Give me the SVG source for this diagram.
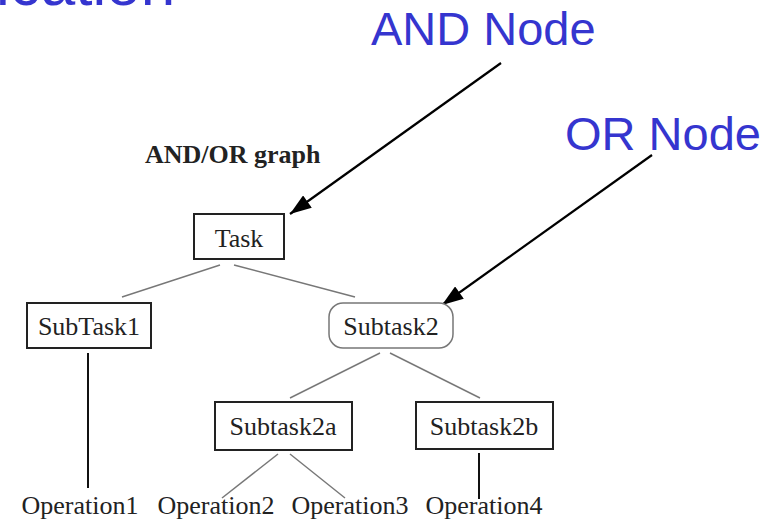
<svg xmlns="http://www.w3.org/2000/svg" width="781" height="527" viewBox="0 0 781 527">
<style>
.blue{font-family:"Liberation Sans",Arial,sans-serif;fill:#3535CF;}
.serif{font-family:"Liberation Serif","Times New Roman",serif;font-size:26px;fill:#222;}
.box{fill:#fff;stroke:#222;stroke-width:2;}
.obox{fill:#fff;stroke:#777;stroke-width:1.5;}
.edge{stroke:#777;stroke-width:1.5;fill:none;}
.vedge{stroke:#111;stroke-width:2;fill:none;}
.arrow{stroke:#000;stroke-width:2.2;fill:none;}
</style>
<defs>
<marker id="ah2" viewBox="0 0 20 14" refX="20" refY="7" markerWidth="22" markerHeight="15" markerUnits="userSpaceOnUse" orient="auto">
<path d="M0,0 L20,7 L0,14 z" fill="#000"/>
</marker>
</defs>
<rect width="781" height="527" fill="#fff"/>
<text class="blue" x="-4" y="5" font-size="62">ication</text>
<text id="label-and" class="blue" x="371" y="45" font-size="47">AND Node</text>
<text id="label-or" class="blue" x="565" y="150" font-size="47">OR Node</text>
<text id="title" x="145" y="163" font-family="'Liberation Serif','Times New Roman',serif" font-size="26" font-weight="bold" fill="#222">AND/OR graph</text>
<g id="connectors">
<line class="edge" x1="220" y1="265" x2="122" y2="297"/>
<line class="edge" x1="234" y1="265" x2="355" y2="297"/>
<line class="vedge" x1="88" y1="353" x2="88" y2="488"/>
<line class="edge" x1="380" y1="353" x2="290" y2="398"/>
<line class="edge" x1="390" y1="353" x2="480" y2="398"/>
<line class="edge" x1="278" y1="454" x2="222" y2="498"/>
<line class="edge" x1="290" y1="454" x2="345" y2="498"/>
<line class="vedge" x1="479" y1="453" x2="479" y2="499"/>
<line class="arrow" x1="501" y1="63" x2="290" y2="214" marker-end="url(#ah2)"/>
<line class="arrow" x1="652" y1="155" x2="442" y2="305" marker-end="url(#ah2)"/>
</g>
<g id="task"><rect class="box" x="194" y="214" width="90" height="45"/><text class="serif" x="239" y="247" text-anchor="middle">Task</text></g>
<g id="subtask1"><rect class="box" x="27" y="303" width="124" height="45"/><text class="serif" x="89" y="335" text-anchor="middle">SubTask1</text></g>
<g id="subtask2"><rect class="obox" x="329" y="303" width="124" height="45" rx="14" ry="14"/><text class="serif" x="391" y="335" text-anchor="middle">Subtask2</text></g>
<g id="subtask2a"><rect class="box" x="215" y="402" width="137" height="48"/><text class="serif" x="283" y="435" text-anchor="middle">Subtask2a</text></g>
<g id="subtask2b"><rect class="box" x="416" y="402" width="137" height="47"/><text class="serif" x="484" y="435" text-anchor="middle">Subtask2b</text></g>
<g id="op1"><text class="serif" x="80" y="514" text-anchor="middle">Operation1</text></g>
<g id="op2"><text class="serif" x="216" y="514" text-anchor="middle">Operation2</text></g>
<g id="op3"><text class="serif" x="350" y="514" text-anchor="middle">Operation3</text></g>
<g id="op4"><text class="serif" x="484" y="514" text-anchor="middle">Operation4</text></g>
</svg>
